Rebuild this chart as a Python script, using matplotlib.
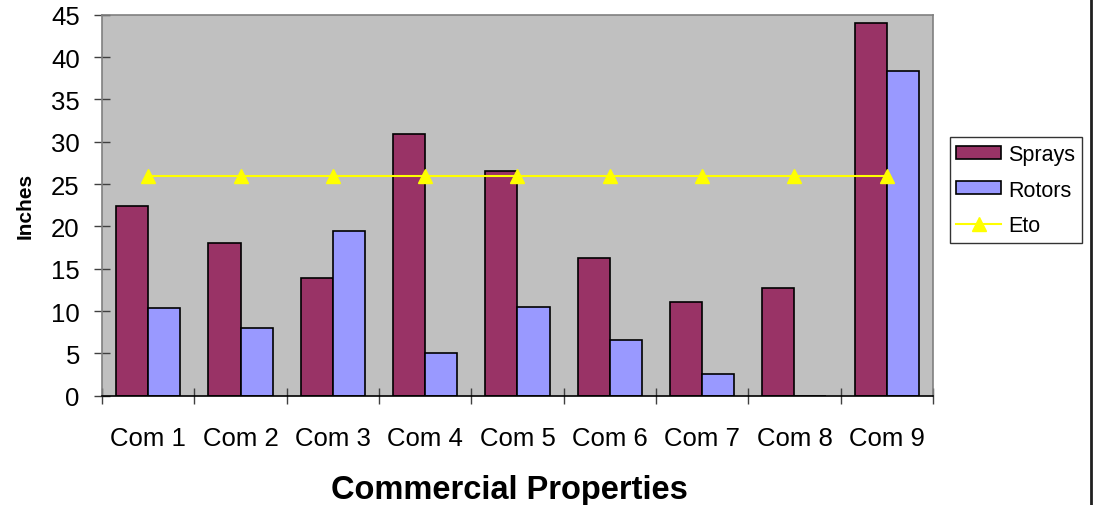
import numpy as np
import matplotlib
matplotlib.use('Agg')
import matplotlib.pyplot as plt
from matplotlib.lines import Line2D

plt.rcParams['font.family'] = ['Liberation Sans', 'DejaVu Sans']

categories = ['Com 1', 'Com 2', 'Com 3', 'Com 4', 'Com 5', 'Com 6', 'Com 7', 'Com 8', 'Com 9']
sprays = [22.4, 18.0, 13.9, 30.9, 26.5, 16.3, 11.1, 12.7, 44.0]
rotors = [10.3, 8.0, 19.4, 5.0, 10.5, 6.6, 2.6, 0.0, 38.3]
eto = [26, 26, 26, 26, 26, 26, 26, 26, 26]

x = np.arange(len(categories))
w = 0.347

fig = plt.figure(figsize=(10.95, 5.06), dpi=100)
ax = fig.add_axes([0.0932, 0.216, 0.7588, 0.753])
ax.set_facecolor('#C0C0C0')

b1 = ax.bar(x - w/2, sprays, w, color='#993366', edgecolor='black', linewidth=1.2, label='Sprays', zorder=2)
b2 = ax.bar(x + w/2, rotors, w, color='#9999FF', edgecolor='black', linewidth=1.2, label='Rotors', zorder=2)
l1, = ax.plot(x, eto, color='#FFFF00', linewidth=1.5, marker='^', markersize=10,
              markerfacecolor='#FFFF00', markeredgecolor='#FFFF00', label='Eto', zorder=3)

ax.set_xlim(-0.5, len(categories) - 0.5)
ax.set_ylim(0, 45)
ax.set_yticks(np.arange(0, 46, 5))
ax.tick_params(axis='y', labelsize=18.5, direction='inout', length=12, width=1, color='#404040', pad=10)

# category boundaries get the tick marks, names sit in between
ax.set_xticks(np.arange(-0.5, len(categories), 1.0))
ax.set_xticklabels([])
ax.set_xticks(x, minor=True)
ax.set_xticklabels(categories, minor=True, fontsize=18.5)
ax.tick_params(axis='x', which='major', direction='inout', length=12, width=1, color='#404040')
ax.tick_params(axis='x', which='minor', length=0, pad=21.5)

for s in ['top', 'right', 'left']:
    ax.spines[s].set_color('#808080')
    ax.spines[s].set_linewidth(1.2)
ax.spines['bottom'].set_color('black')
ax.spines['bottom'].set_linewidth(1.2)

ax.set_ylabel('Inches', fontsize=15, fontweight='bold', labelpad=12)
ax.set_xlabel('Commercial Properties', fontsize=23.5, fontweight='bold', labelpad=17.5)
ax.xaxis.label.set_x(0.49)

leg = ax.legend([b1, b2, l1], ['Sprays', 'Rotors', 'Eto'],
                loc='center left', bbox_to_anchor=(0.8676, 0.6225), bbox_transform=fig.transFigure,
                fontsize=15.5, frameon=True, fancybox=False, edgecolor='black',
                handlelength=2.05, handleheight=0.55, handletextpad=0.35,
                labelspacing=0.68, borderpad=0.3, borderaxespad=0)
leg.get_frame().set_linewidth(1.0)

fig.add_artist(Line2D([0.9962, 0.9962], [0, 1], transform=fig.transFigure, color='#202020', linewidth=2))

fig.savefig('out.png', dpi=100, facecolor='white')
